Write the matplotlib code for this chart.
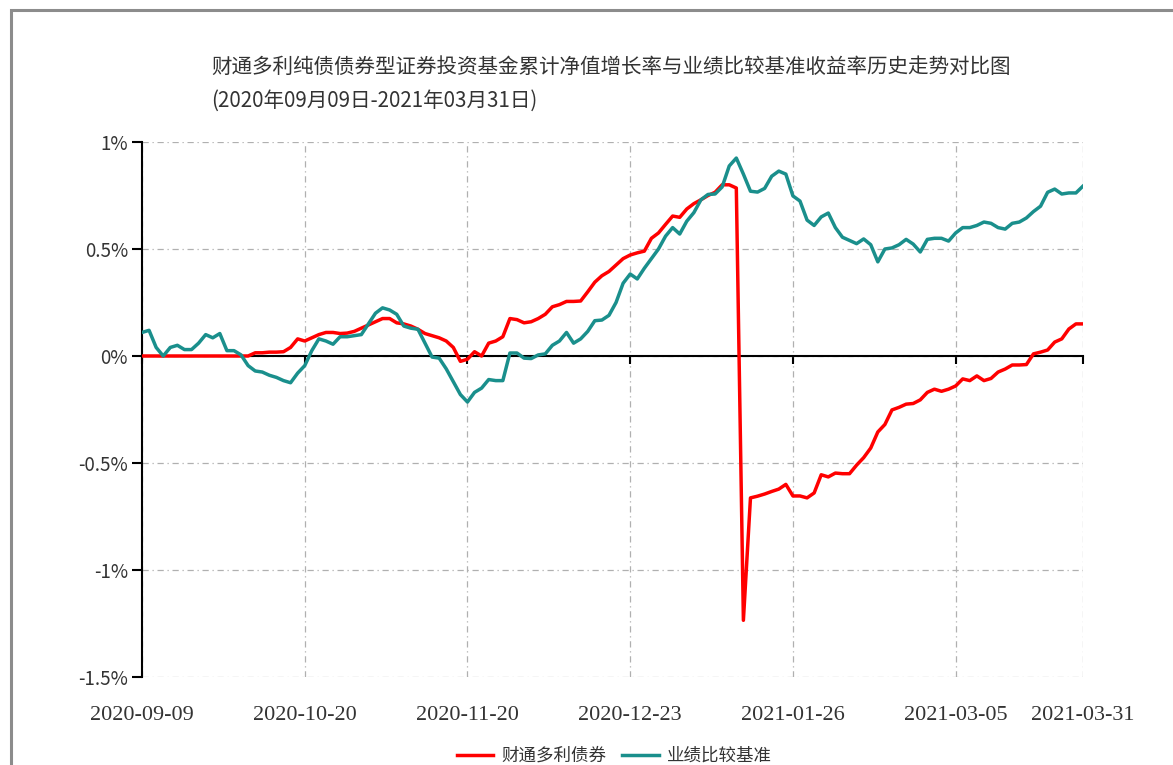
import numpy as np
import pandas as pd
import matplotlib
matplotlib.use("Agg")
import matplotlib.pyplot as plt
from matplotlib.patches import Rectangle

plt.rcParams['font.family'] = ['Noto Sans CJK SC', 'DejaVu Sans']

# trading days 2020-09-09 .. 2021-03-31 (SSE calendar)
holidays = ['2020-10-01', '2020-10-02', '2020-10-05', '2020-10-06', '2020-10-07',
            '2020-10-08', '2021-01-01', '2021-02-11', '2021-02-12', '2021-02-15',
            '2021-02-16', '2021-02-17']
dates = pd.bdate_range('2020-09-09', '2021-03-31')
dates = dates[~dates.isin(pd.to_datetime(holidays))]

# cumulative return, %
fund = [0, 0, 0, 0, 0, 0, 0, 0, 0, 0, 0, 0, 0, 0, 0, 0,
        0.015, 0.015, 0.018, 0.018, 0.02, 0.04, 0.08, 0.07, 0.085, 0.10,
        0.11, 0.11, 0.105, 0.107, 0.115, 0.13, 0.145, 0.16, 0.175, 0.175,
        0.155, 0.15, 0.14, 0.125, 0.105, 0.095, 0.085, 0.07, 0.04, -0.025,
        -0.015, 0.02, 0.0, 0.06, 0.07, 0.09, 0.175, 0.17, 0.155, 0.16,
        0.175, 0.195, 0.23, 0.24, 0.255, 0.255, 0.257, 0.30, 0.345, 0.375,
        0.395, 0.425, 0.455, 0.472, 0.482, 0.49, 0.55, 0.575, 0.615, 0.654,
        0.648, 0.687, 0.712, 0.73, 0.75, 0.765, 0.80, 0.80, 0.785, -1.235,
        -0.663, -0.655, -0.645, -0.633, -0.622, -0.60, -0.654, -0.654, -0.663, -0.64,
        -0.555, -0.565, -0.547, -0.55, -0.55, -0.51, -0.475, -0.43, -0.355, -0.32,
        -0.252, -0.24, -0.225, -0.222, -0.205, -0.17, -0.155, -0.165, -0.155, -0.14,
        -0.107, -0.115, -0.093, -0.115, -0.105, -0.075, -0.061, -0.042, -0.042, -0.04,
        0.01, 0.018, 0.028, 0.065, 0.08, 0.126, 0.15, 0.15]

bench = [0.11, 0.12, 0.04, 0.0, 0.04, 0.05, 0.03, 0.03, 0.06, 0.10,
         0.085, 0.105, 0.025, 0.025, 0.005, -0.045, -0.07, -0.075, -0.09, -0.10,
         -0.115, -0.125, -0.08, -0.045, 0.025, 0.08, 0.07, 0.055, 0.09, 0.09,
         0.095, 0.10, 0.15, 0.20, 0.225, 0.215, 0.195, 0.14, 0.13, 0.125,
         0.06, -0.005, -0.01, -0.06, -0.12, -0.18, -0.215, -0.17, -0.15, -0.11,
         -0.115, -0.115, 0.014, 0.014, -0.01, -0.012, 0.005, 0.01, 0.05, 0.07,
         0.11, 0.06, 0.08, 0.115, 0.165, 0.168, 0.19, 0.25, 0.34, 0.383,
         0.36, 0.41, 0.455, 0.50, 0.56, 0.60, 0.57, 0.63, 0.67, 0.73,
         0.755, 0.757, 0.79, 0.888, 0.925, 0.85, 0.77, 0.766, 0.783, 0.84,
         0.864, 0.85, 0.748, 0.724, 0.635, 0.61, 0.65, 0.668, 0.60, 0.555,
         0.54, 0.525, 0.547, 0.52, 0.44, 0.50, 0.505, 0.52, 0.545, 0.523,
         0.486, 0.545, 0.55, 0.55, 0.537, 0.575, 0.60, 0.60, 0.61, 0.626,
         0.62, 0.60, 0.593, 0.62, 0.626, 0.645, 0.675, 0.70, 0.765, 0.78,
         0.757, 0.762, 0.762, 0.794]

tick_labels = ['2020-09-09', '2020-10-20', '2020-11-20', '2020-12-23',
               '2021-01-26', '2021-03-05', '2021-03-31']
yticks = [-1.5, -1, -0.5, 0, 0.5, 1]

title1 = '财通多利纯债债券型证券投资基金累计净值增长率与业绩比较基准收益率历史走势对比图'
title2 = '(2020年09月09日-2021年03月31日)'

W, H = 1173, 765
fig = plt.figure(figsize=(W / 100, H / 100), dpi=100)
ax = fig.add_axes([142 / W, 1 - 677 / H, (1083 - 142) / W, (677 - 142) / H])

x = np.arange(len(dates))
tick_pos = [dates.get_loc(pd.Timestamp(t)) for t in tick_labels]

ax.plot(x, fund, color='#ff0000', lw=2.5, label='财通多利债券', zorder=3)
ax.plot(x, bench, color='#1a8f8c', lw=2.5, label='业绩比较基准', zorder=3)

ax.set_xlim(0, len(dates) - 1)
ax.set_ylim(-1.5, 1.0)

ax.set_yticks(yticks, [f'{v:g}%' for v in yticks])
ax.set_xticks(tick_pos)
ax.grid(True, color='#b0b0b0', linestyle=(0, (5, 3, 1, 3)), lw=0.9)
ax.set_axisbelow(True)

for s in ['top', 'right']:
    ax.spines[s].set_visible(False)
ax.spines['left'].set_linewidth(1.5)
ax.spines['bottom'].set_position(('data', 0))
ax.spines['bottom'].set_linewidth(1.5)
ax.spines['bottom'].set_zorder(2)

ax.tick_params(axis='y', direction='out', length=7, width=1.5, pad=3,
               labelsize=13.5, labelcolor='#333333')
ax.tick_params(axis='x', direction='out', length=6, width=1.5, labelbottom=False)

# date labels sit under the plot, not on the zero line
sec = ax.secondary_xaxis('bottom')
sec.set_xticks(tick_pos, tick_labels, fontfamily='Liberation Serif',
               fontsize=16, color='#333333')
sec.spines['bottom'].set_visible(False)
sec.tick_params(length=0, pad=21)

fig.text(211 / W, 1 - 67 / H, title1, ha='left', va='center', fontsize=14.8, color='#333333')
fig.text(211 / W, 1 - 101 / H, title2, ha='left', va='center', fontsize=14.8, color='#333333')

fig.legend(loc='center', bbox_to_anchor=(614 / W, 1 - 756 / H), ncol=2, frameon=False,
           fontsize=12.6, handlelength=2.1, handletextpad=0.45, columnspacing=0.9,
           labelcolor='#333333')

fig.patches.append(Rectangle((11 / W, -0.1), 2, 1.1 - 10.5 / H, transform=fig.transFigure,
                             fill=False, edgecolor='#8c8c8c', lw=2.2))

fig.savefig('out.png', dpi=100)
